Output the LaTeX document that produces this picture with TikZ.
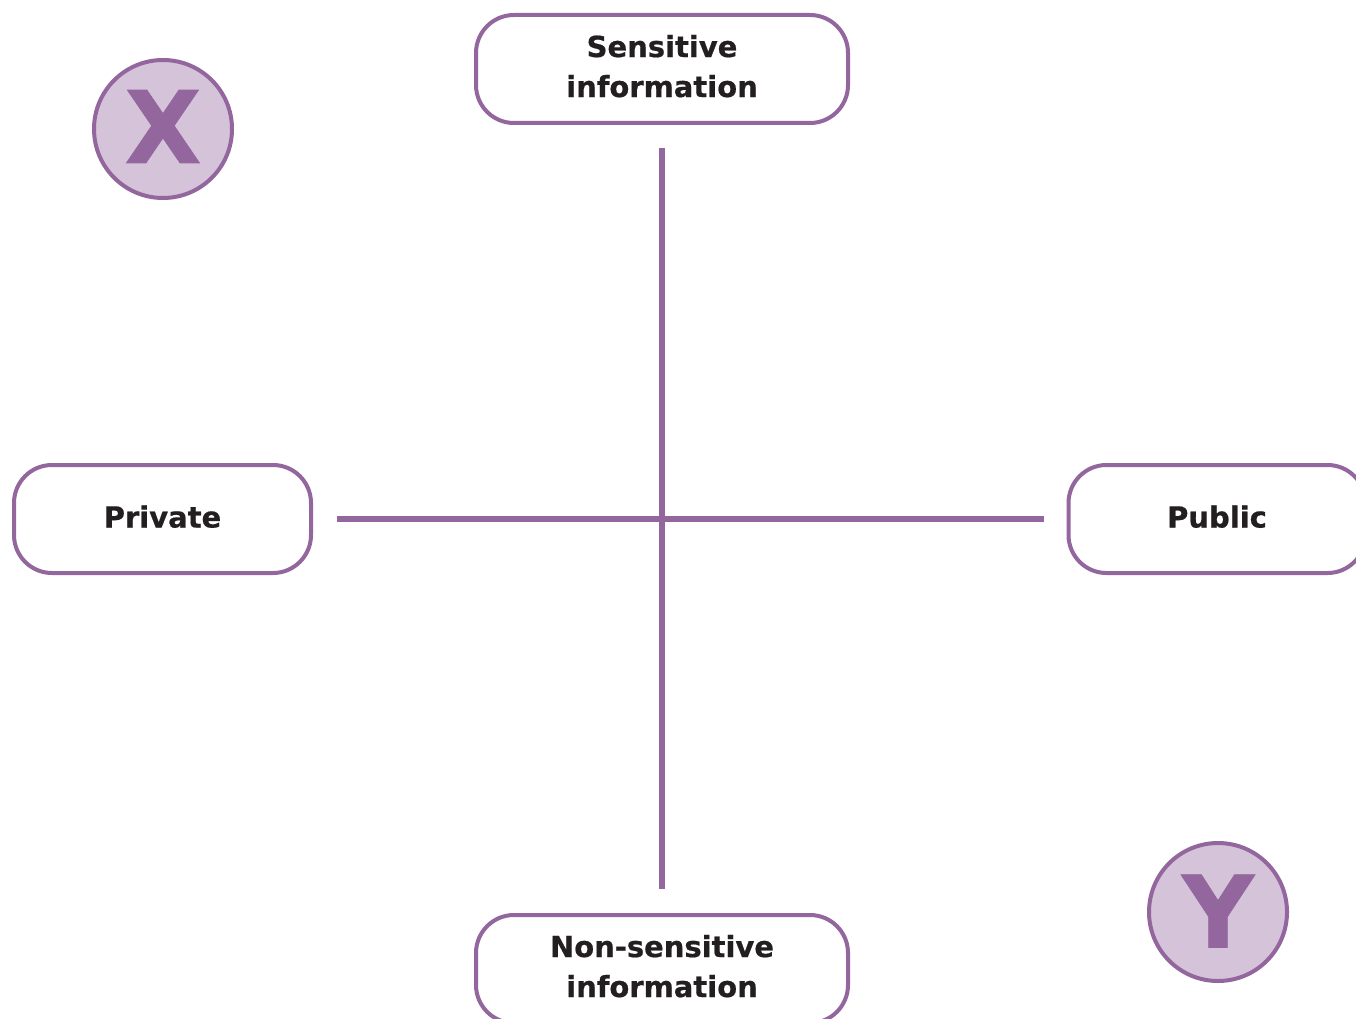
\documentclass[tikz,border=0pt]{standalone}
\usepackage{fontspec}
\setmainfont{DejaVu Sans}[BoldFeatures={FakeBold=0.6}]
\definecolor{pline}{HTML}{93669E}
\definecolor{pfill}{HTML}{D5C3D9}
\definecolor{ptext}{HTML}{231F20}
\begin{document}
\begin{tikzpicture}[x=1pt,y=-1pt,
  box/.style={draw=pline, line width=4pt, rounded corners=38pt, fill=white,
    minimum width=372pt, minimum height=108pt, align=center, inner sep=0pt,
    font=\fontsize{29}{40}\selectfont\bfseries, text=ptext},
  sbox/.style={box, minimum width=297pt},
  badge/.style={circle, draw=pline, line width=4pt, fill=pfill, minimum size=138pt,
    inner sep=0pt, font=\fontsize{100}{100}\selectfont\bfseries, text=pline},
  axis/.style={draw=pline, line width=6pt}]
\useasboundingbox (0,0) rectangle (1356,1019);
\clip (0,0) rectangle (1356,1019);
\node[box] (sens) at (662,69) {Sensitive\\information\rule[-6pt]{0pt}{6pt}};
\node[box] (nons) at (662,969) {Non-sensitive\\information\rule[-6pt]{0pt}{6pt}};
\node[sbox] (priv) at (162.5,519) {Private\rule[-5pt]{0pt}{5pt}};
\node[sbox] (publ) at (1217,519) {Public\rule[-5pt]{0pt}{5pt}};
\node[badge] (x) at (163,129) {X\rule[-5pt]{0pt}{5pt}};
\node[badge] (y) at (1218,912) {Y\rule[-2pt]{0pt}{2pt}};
\coordinate (vt) at (662,148);
\coordinate (vb) at (662,889);
\coordinate (hl) at (337,519);
\coordinate (hr) at (1044,519);
\draw[axis] (vt) -- (vb);
\draw[axis] (hl) -- (hr);
\end{tikzpicture}
\end{document}
